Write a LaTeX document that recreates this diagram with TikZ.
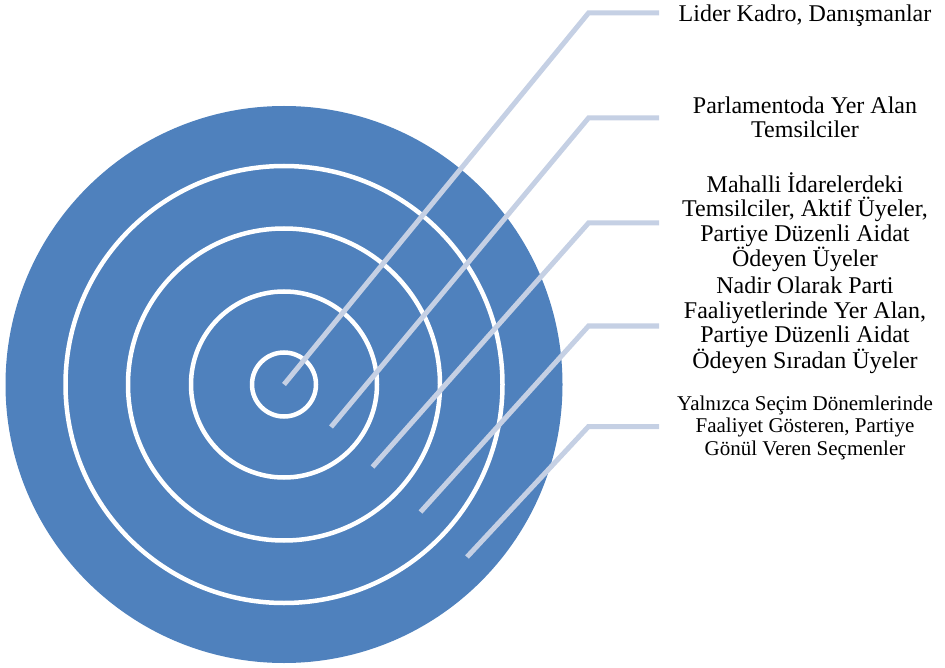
\documentclass[tikz,border=0pt]{standalone}
\usepackage{fontspec}
\setmainfont{Liberation Serif}
\definecolor{targetblue}{HTML}{4F81BD}
\definecolor{leadgray}{HTML}{C5D0E4}

\begin{document}
\begin{tikzpicture}[x=1pt, y=-1pt,
  ring/.style={white, line width=4.5pt},
  leader/.style={leadgray, line width=5pt, line join=miter},
  label/.style={black, align=center, anchor=base, inner sep=0pt,
    font=\fontsize{24}{24.4}\selectfont},
  smalllabel/.style={label, font=\fontsize{21}{22.5}\selectfont}]
\useasboundingbox (0,0) rectangle (945,668);
% target
\coordinate (c) at (284,384.5);
\fill[targetblue] (c) circle[radius=278.5pt];
\foreach \r in {32,93,156,218.5}
  \draw[ring] (c) circle[radius=\r pt];
% leader points
\coordinate (s1) at (284,384.5);
\coordinate (s2) at (331,427);
\coordinate (s3) at (372.5,467);
\coordinate (s4) at (420.5,512);
\coordinate (s5) at (467,557);
\coordinate (k1) at (588.5,13);
\coordinate (k2) at (588.5,118);
\coordinate (k3) at (588.5,223);
\coordinate (k4) at (588.5,326);
\coordinate (k5) at (588.5,426.5);
\coordinate (e1) at (659,13);
\coordinate (e2) at (659,118);
\coordinate (e3) at (659,223);
\coordinate (e4) at (659,326);
\coordinate (e5) at (659,426.5);
\draw[leader] (s1) -- (k1) -- (e1);
\draw[leader] (s2) -- (k2) -- (e2);
\draw[leader] (s3) -- (k3) -- (e3);
\draw[leader] (s4) -- (k4) -- (e4);
\draw[leader] (s5) -- (k5) -- (e5);
% labels (base = last line)
\node[label] (lider) at (805,21.7) {Lider Kadro, Danışmanlar};
\node[label] (parl) at (805,137.5) {Parlamentoda Yer Alan\\Temsilciler};
\node[label] (mahalli) at (805,266.7) {Mahalli İdarelerdeki\\Temsilciler, Aktif Üyeler,\\Partiye Düzenli Aidat\\Ödeyen Üyeler};
\node[label] (nadir) at (805,368.3) {Nadir Olarak Parti\\Faaliyetlerinde Yer Alan,\\Partiye Düzenli Aidat\\Ödeyen Sıradan Üyeler};
\node[smalllabel] (secmen) at (805,455) {Yalnızca Seçim Dönemlerinde\\Faaliyet Gösteren, Partiye\\Gönül Veren Seçmenler};
\end{tikzpicture}
\end{document}
